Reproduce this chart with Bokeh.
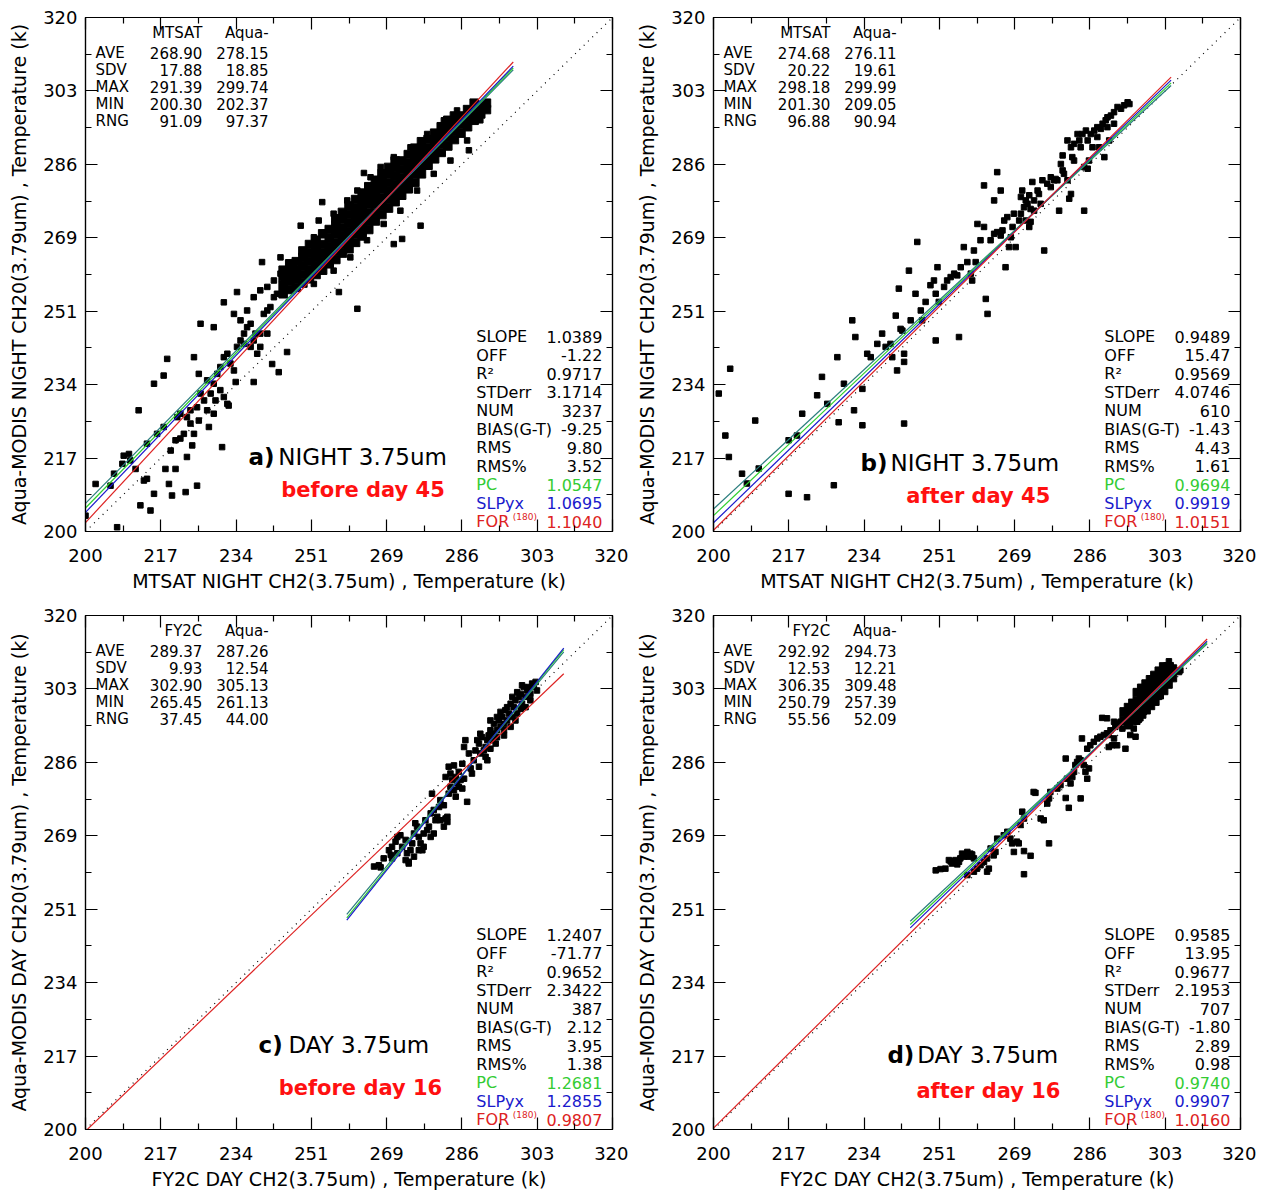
from bokeh.plotting import figure
from bokeh.models import Range1d, LinearAxis, FixedTicker, NumeralTickFormatter, CustomJSTickFormatter
from bokeh.layouts import gridplot
from bokeh.embed import file_html
from bokeh.resources import INLINE
from bokeh.core.properties import value

FONT = "DejaVu Sans"

# ---------------- axis ticks ----------------
tick_values = [200, 217.14, 234.29, 251.43, 268.57, 285.71, 302.86, 320]
minor_tick_values = [208.57, 225.71, 242.86, 260.0, 277.14, 294.29, 311.43]

# ---------------- panel texts ----------------
panel_ids = ["a)", "b)", "c)", "d)"]
panel_titles = ["NIGHT 3.75um", "NIGHT 3.75um", "DAY 3.75um", "DAY 3.75um"]
panel_periods = ["before day 45", "after day 45", "before day 16", "after day 16"]
x_labels = ["MTSAT NIGHT CH2(3.75um) , Temperature (k)",
            "MTSAT NIGHT CH2(3.75um) , Temperature (k)",
            "FY2C DAY CH2(3.75um) , Temperature (k)",
            "FY2C DAY CH2(3.75um) , Temperature (k)"]
y_labels = ["Aqua-MODIS NIGHT CH20(3.79um) , Temperature (k)",
            "Aqua-MODIS NIGHT CH20(3.79um) , Temperature (k)",
            "Aqua-MODIS DAY CH20(3.79um) , Temperature (k)",
            "Aqua-MODIS DAY CH20(3.79um) , Temperature (k)"]

# ---------------- statistics ----------------
sat_names = ["MTSAT", "MTSAT", "FY2C", "FY2C"]
stat_rows = ["AVE", "SDV", "MAX", "MIN", "RNG"]
sat_stats = [[268.90, 17.88, 291.39, 200.30, 91.09],
             [274.68, 20.22, 298.18, 201.30, 96.88],
             [289.37, 9.93, 302.90, 265.45, 37.45],
             [292.92, 12.53, 306.35, 250.79, 55.56]]
aqua_stats = [[278.15, 18.85, 299.74, 202.37, 97.37],
              [276.11, 19.61, 299.99, 209.05, 90.94],
              [287.26, 12.54, 305.13, 261.13, 44.00],
              [294.73, 12.21, 309.48, 257.39, 52.09]]
slope = [1.0389, 0.9489, 1.2407, 0.9585]
offset = [-1.22, 15.47, -71.77, 13.95]
r2 = [0.9717, 0.9569, 0.9652, 0.9677]
stderr = [3.1714, 4.0746, 2.3422, 2.1953]
num = [3237, 610, 387, 707]
bias = [-9.25, -1.43, 2.12, -1.80]
rms = [9.80, 4.43, 3.95, 2.89]
rms_pct = [3.52, 1.61, 1.38, 0.98]
pc = [1.0547, 0.9694, 1.2681, 0.9740]
slp_yx = [1.0695, 0.9919, 1.2855, 0.9907]
for180 = [1.1040, 1.0151, 0.9807, 1.0160]
fit_x_start = [200.0, 200.0, 259.5, 244.8]
fit_x_end = [297.4, 304.2, 308.9, 312.4]
for_x_start = [200.0, 200.0, 200.0, 200.0]

# ---------------- scatter points ----------------
a_points = [
    (207.2, 201.0), (200.0, 203.7), (202.3, 211.1), (205.7, 210.7), (208.7, 217.7), (209.9, 218.1),
    (212.1, 228.3), (212.5, 206.1), (214.8, 204.9), (214.0, 212.3), (215.6, 208.8), (215.6, 234.5),
    (218.2, 214.6), (217.8, 236.4), (219.0, 211.1), (219.7, 208.4), (220.5, 214.6), (222.8, 209.2),
    (223.1, 217.4), (224.3, 220.1), (225.4, 210.7), (223.9, 228.3), (225.8, 236.8), (226.2, 248.5),
    (229.2, 247.7), (231.5, 253.5), (231.1, 219.7), (234.5, 255.9), (218.6, 240.3), (224.7, 240.7),
    (228.1, 224.4), (232.3, 229.8), (234.2, 234.9), (238.3, 234.9), (242.5, 239.1), (244.0, 237.2),
    (245.9, 241.9), (249.0, 271.4), (253.1, 272.6), (253.9, 276.9), (261.9, 252.0), (263.4, 283.7),
    (272.1, 268.3), (270.2, 267.1), (276.3, 271.4), (287.3, 289.0), (257.7, 255.9), (244.4, 264.0),
    (240.2, 262.9),
    (206.5, 213.5), (208.4, 215.8), (210.2, 216.6), (211.4, 214.6), (213.3, 211.9), (214.0, 220.5),
    (216.3, 222.8), (217.8, 224.4), (219.4, 218.9), (220.5, 221.3), (220.9, 226.7), (221.6, 227.5),
    (222.4, 222.8), (223.1, 226.7), (223.9, 225.2), (224.7, 222.8), (221.6, 221.7), (225.4, 229.0),
    (225.8, 225.9), (227.0, 230.6), (227.7, 228.3), (228.5, 232.2), (229.2, 234.5), (229.6, 230.6),
    (230.0, 236.8), (230.7, 238.4), (231.5, 240.7), (232.3, 241.5), (233.0, 239.2), (233.8, 237.6),
    (230.7, 233.0), (231.5, 231.4), (232.6, 229.4), (229.2, 227.5), (226.2, 232.2), (227.7, 235.3),
    (234.5, 243.1), (235.3, 244.6), (236.1, 246.2), (236.8, 247.7), (237.6, 248.5), (238.3, 244.6),
    (239.1, 241.5), (239.8, 243.1), (240.6, 250.8), (241.4, 251.6), (242.1, 252.4), (242.9, 254.7),
    (243.6, 255.5), (245.2, 258.6), (245.9, 259.4), (246.7, 260.9), (247.4, 261.7), (248.6, 262.9),
    (239.8, 246.2), (241.4, 246.2), (238.7, 246.2), (233.8, 250.8), (235.3, 249.3), (236.8, 251.6),
    (238.3, 254.7), (239.8, 256.3), (241.4, 257.1), (242.9, 258.6), (244.4, 260.2), (236.1, 243.8),
    (237.6, 243.1),
    (252.0, 268.7), (256.5, 274.2), (259.6, 277.3), (261.9, 279.6), (264.9, 282.7), (267.2, 285.1),
    (270.2, 287.4), (274.0, 289.7), (277.8, 292.8), (281.6, 296.0), (284.6, 298.3), (288.4, 299.8),
    (252.0, 257.8), (256.5, 260.9), (260.3, 264.0), (264.1, 268.0), (267.9, 271.8), (271.7, 274.9),
    (275.5, 279.6), (279.3, 283.5), (283.1, 286.6), (286.9, 291.3), (289.9, 296.0),
]
a_core = [
    (245.0, 255.5), (245.0, 257.5), (245.0, 259.5), (245.0, 261.0),
    (246.5, 256.5), (246.5, 258.5), (246.5, 260.5), (246.5, 262.5),
    (248.0, 257.0), (248.0, 259.0), (248.0, 261.0), (248.0, 263.0),
    (249.5, 258.0), (249.5, 260.0), (249.5, 262.0), (249.5, 264.0), (249.5, 265.5),
    (251.0, 259.0), (251.0, 261.0), (251.0, 263.0), (251.0, 265.0), (251.0, 267.0),
    (252.5, 260.0), (252.5, 262.0), (252.5, 264.0), (252.5, 266.0), (252.5, 268.0),
    (254.0, 261.0), (254.0, 263.0), (254.0, 265.0), (254.0, 267.0), (254.0, 269.5),
    (255.5, 262.5), (255.5, 264.5), (255.5, 266.5), (255.5, 268.5), (255.5, 270.5),
    (257.0, 263.5), (257.0, 265.5), (257.0, 267.5), (257.0, 269.5), (257.0, 271.5), (257.0, 273.0),
    (258.5, 265.0), (258.5, 267.0), (258.5, 269.0), (258.5, 271.0), (258.5, 273.0), (258.5, 274.5),
    (260.0, 266.0), (260.0, 268.0), (260.0, 270.0), (260.0, 272.0), (260.0, 274.0), (260.0, 276.0),
    (261.5, 267.5), (261.5, 269.5), (261.5, 271.5), (261.5, 273.5), (261.5, 275.5), (261.5, 277.5),
    (263.0, 269.0), (263.0, 271.0), (263.0, 273.0), (263.0, 275.0), (263.0, 277.0), (263.0, 279.0),
    (264.5, 270.5), (264.5, 272.5), (264.5, 274.5), (264.5, 276.5), (264.5, 278.5), (264.5, 280.5),
    (266.0, 272.5), (266.0, 274.5), (266.0, 276.5), (266.0, 278.5), (266.0, 280.5), (266.0, 282.0),
    (267.5, 274.0), (267.5, 276.0), (267.5, 278.0), (267.5, 280.0), (267.5, 282.0), (267.5, 283.5),
    (269.0, 275.5), (269.0, 277.5), (269.0, 279.5), (269.0, 281.5), (269.0, 283.5), (269.0, 285.0),
    (270.5, 277.0), (270.5, 279.0), (270.5, 281.0), (270.5, 283.0), (270.5, 285.0), (270.5, 286.5),
    (272.0, 278.5), (272.0, 280.5), (272.0, 282.5), (272.0, 284.5), (272.0, 286.5),
    (273.5, 280.0), (273.5, 282.0), (273.5, 284.0), (273.5, 286.0), (273.5, 288.0),
    (275.0, 281.5), (275.0, 283.5), (275.0, 285.5), (275.0, 287.5), (275.0, 289.5),
    (276.5, 283.5), (276.5, 285.5), (276.5, 287.5), (276.5, 289.5), (276.5, 291.0),
    (278.0, 285.5), (278.0, 287.5), (278.0, 289.5), (278.0, 291.5),
    (279.5, 287.0), (279.5, 289.0), (279.5, 291.0), (279.5, 293.0),
    (281.0, 288.5), (281.0, 290.5), (281.0, 292.5), (281.0, 294.5),
    (282.5, 290.0), (282.5, 292.0), (282.5, 294.0), (282.5, 296.0),
    (284.0, 291.5), (284.0, 293.5), (284.0, 295.5), (284.0, 297.0),
    (285.5, 293.0), (285.5, 295.0), (285.5, 297.0),
    (287.0, 294.5), (287.0, 296.5), (287.0, 298.5),
    (288.5, 296.0), (288.5, 298.0), (288.5, 300.0),
    (290.0, 297.5), (290.0, 299.5),
    (291.3, 298.5), (291.3, 300.0),
]
b_points = [
    (201.2, 232.2), (203.8, 238.0), (202.7, 222.4), (203.5, 217.4), (209.5, 225.9), (206.5, 213.5),
    (207.6, 211.2), (217.1, 208.8), (221.3, 208.0), (227.4, 210.8), (210.3, 214.7), (217.1, 221.3),
    (219.0, 222.4), (220.2, 227.5), (223.6, 231.8), (224.7, 236.1), (225.9, 229.8), (228.2, 240.7),
    (228.5, 225.5), (229.7, 234.5), (231.6, 249.3), (232.0, 228.3), (232.3, 245.4), (233.9, 224.8),
    (233.9, 233.3), (235.0, 241.5), (235.8, 240.7), (237.3, 243.8), (238.4, 246.2), (239.2, 243.1),
    (240.3, 243.8), (240.7, 240.7), (241.8, 237.6), (242.6, 247.3), (243.4, 241.5), (243.4, 239.6),
    (241.5, 250.4), (242.2, 256.7), (243.0, 246.9), (243.4, 225.2), (244.5, 260.9), (244.9, 249.3),
    (246.0, 255.5), (246.4, 267.6), (247.2, 251.6), (247.5, 249.3), (248.3, 253.6), (249.4, 257.5),
    (250.2, 258.6), (250.6, 255.5), (250.6, 244.6), (251.0, 261.7), (251.3, 253.6), (252.5, 257.1),
    (253.2, 258.6), (254.0, 259.4), (254.8, 260.2), (255.5, 259.8), (255.9, 245.4), (256.3, 261.7),
    (257.0, 266.4), (257.8, 262.9), (258.6, 260.2), (258.9, 258.6), (259.3, 265.6), (259.7, 262.9),
    (260.1, 271.8), (260.8, 268.0), (261.6, 271.1), (262.0, 254.3), (262.4, 250.8), (263.1, 268.0),
    (263.9, 269.5), (264.6, 269.9), (265.4, 269.1), (265.8, 270.3), (266.2, 272.6), (266.5, 261.7),
    (267.3, 266.4), (267.7, 268.7), (268.1, 271.1), (268.8, 266.4), (270.0, 274.2), (270.7, 275.7),
    (271.1, 272.6), (271.5, 276.5), (271.9, 278.5), (272.2, 275.3), (272.6, 281.6), (273.0, 277.3),
    (273.8, 279.6), (274.1, 278.8), (274.5, 276.5), (274.9, 282.0), (275.3, 265.6), (276.0, 281.2),
    (276.8, 280.4), (277.6, 282.0), (278.3, 282.0), (278.7, 274.9), (279.1, 285.8), (279.5, 287.8),
    (279.8, 283.5), (280.6, 282.0), (281.0, 277.7), (281.4, 289.7), (281.7, 287.4), (282.1, 290.5),
    (282.9, 292.8), (283.6, 289.7), (284.4, 274.9), (284.8, 293.6), (285.2, 284.7), (285.5, 286.6),
    (285.9, 292.8), (286.7, 293.6), (287.4, 292.1), (288.2, 294.0), (288.6, 295.2), (289.0, 287.4),
    (289.3, 296.0), (289.7, 296.7), (290.5, 297.1), (291.2, 297.9), (292.0, 299.1), (292.8, 298.7),
    (293.5, 299.5), (294.3, 300.2), (294.7, 299.8), (264.6, 283.9), (261.6, 280.8), (265.4, 279.6),
    (263.9, 277.3), (273.0, 274.9), (276.8, 282.7), (277.9, 282.3), (281.4, 278.8), (282.1, 286.6),
    (283.3, 291.3), (284.0, 292.8), (285.2, 291.3), (286.3, 289.7), (287.4, 294.4), (287.8, 289.7),
    (284.4, 285.1), (289.7, 294.4), (290.1, 291.3), (291.2, 295.2), (280.6, 291.3), (279.5, 284.3),
    (271.1, 277.3), (270.0, 278.1), (270.3, 279.6), (269.6, 272.6), (268.4, 274.2), (266.9, 273.4),
    (271.9, 271.1), (272.2, 272.3),
]
c_points = [
    (265.7, 261.4), (266.8, 261.7), (267.9, 263.3), (269.1, 265.2), (269.8, 266.0), (269.5, 264.1),
    (270.6, 267.2), (271.0, 268.3), (271.7, 268.7), (272.1, 266.0), (272.9, 267.6), (273.2, 264.5),
    (273.6, 262.5), (274.0, 265.2), (274.4, 266.8), (274.8, 269.1), (275.1, 271.5), (275.5, 270.7),
    (275.9, 268.3), (276.3, 266.8), (276.7, 265.2), (277.0, 269.1), (277.4, 272.2), (277.8, 269.9),
    (278.2, 270.7), (278.6, 273.8), (279.3, 274.6), (278.9, 278.4), (279.7, 272.2), (280.1, 273.0),
    (280.5, 275.3), (280.8, 276.9), (281.6, 275.7), (282.0, 272.6), (282.4, 271.8), (282.7, 278.4),
    (283.1, 280.0), (283.5, 281.6), (283.9, 279.2), (284.3, 277.7), (284.6, 280.8), (285.0, 280.0),
    (285.4, 281.6), (285.8, 279.6), (286.2, 281.9), (286.9, 276.5), (282.0, 282.3), (282.7, 284.7),
    (283.9, 285.0), (286.2, 289.3), (286.5, 290.9), (287.3, 287.8), (287.7, 284.3), (288.4, 286.2),
    (288.8, 288.5), (289.2, 290.9), (289.6, 290.1), (289.9, 287.8), (290.3, 291.6), (290.7, 288.5),
    (291.1, 289.3), (291.5, 286.2), (291.8, 292.0), (292.2, 293.2), (292.6, 290.9), (293.0, 292.4),
    (293.4, 290.1), (293.7, 293.2), (294.1, 295.5), (294.5, 294.0), (294.9, 296.3), (295.3, 294.7),
    (295.6, 297.9), (296.0, 295.5), (296.4, 297.1), (296.8, 299.4), (297.2, 296.3), (297.5, 298.6),
    (297.9, 300.2), (298.3, 297.1), (298.7, 301.0), (299.1, 301.7), (299.4, 299.4), (299.8, 303.3),
    (300.2, 301.0), (300.6, 302.5), (301.0, 303.3), (301.3, 301.7), (301.7, 304.1), (302.1, 303.3),
    (302.5, 304.5), (302.8, 302.5), (301.3, 300.2), (300.2, 298.6), (299.1, 298.2), (297.9, 295.5),
    (296.8, 294.0), (295.3, 292.0), (293.7, 291.6), (292.2, 288.9), (291.1, 287.0), (289.6, 284.7),
    (288.0, 283.1), (273.6, 262.1), (272.9, 262.9), (267.2, 261.2), (269.8, 263.3), (271.0, 264.5),
    (274.8, 263.7), (275.9, 265.2), (277.0, 266.0), (278.6, 268.3), (279.3, 269.1), (280.8, 272.2),
    (281.6, 270.7), (282.4, 273.0), (292.2, 295.5), (291.5, 290.9), (293.0, 294.7), (293.7, 296.3),
    (294.5, 297.5), (296.0, 298.6), (297.2, 301.0), (298.3, 302.1), (299.4, 303.7), (295.3, 293.2),
    (289.9, 292.4), (285.8, 285.4), (285.0, 283.5), (284.3, 282.3), (283.1, 283.1),
]
d_points = [
    (250.6, 260.5), (251.7, 260.8), (252.8, 260.9), (254.0, 262.6), (255.1, 262.9), (254.3, 262.1),
    (255.5, 261.9), (256.2, 263.3), (257.0, 263.7), (257.4, 264.2), (257.8, 264.8), (258.1, 263.7),
    (258.5, 264.4), (259.3, 263.3), (255.9, 262.5), (253.6, 262.9), (256.6, 264.4), (258.9, 264.2),
    (257.8, 259.4), (259.3, 260.2), (260.0, 260.9), (260.8, 261.7), (261.6, 262.5), (262.3, 260.2),
    (262.7, 260.9), (263.8, 264.0), (264.2, 264.8), (262.3, 263.3), (263.1, 265.6), (264.6, 267.9),
    (266.1, 268.7), (266.9, 269.5), (267.6, 267.9), (268.0, 266.8), (268.4, 264.8), (269.1, 267.2),
    (269.5, 266.8), (270.7, 265.0), (272.2, 263.9), (270.7, 259.6), (269.9, 271.1), (270.7, 272.6),
    (270.3, 274.2), (272.9, 278.8), (273.3, 278.6), (274.5, 272.6), (275.2, 272.2), (276.0, 276.1),
    (276.4, 277.3), (276.7, 278.8), (278.3, 279.6), (279.0, 280.4), (280.2, 277.4), (280.9, 275.1),
    (280.5, 281.9), (281.3, 280.8), (281.7, 282.3), (282.1, 283.5), (282.4, 285.1), (282.8, 285.8),
    (283.2, 286.6), (283.6, 286.2), (284.3, 285.1), (284.7, 283.5), (285.1, 281.9), (285.5, 284.3),
    (280.2, 286.6), (285.1, 288.9), (285.8, 289.7), (286.6, 290.5), (287.4, 291.3), (288.1, 291.7),
    (288.9, 292.1), (289.6, 292.5), (290.0, 289.3), (290.4, 293.2), (290.8, 289.7), (291.5, 294.0),
    (291.9, 289.7), (292.3, 294.8), (292.7, 295.2), (293.4, 295.6), (293.8, 288.9), (296.1, 291.7),
    (288.5, 296.1), (289.6, 296.0), (291.2, 295.2), (283.9, 291.3), (290.0, 292.1), (291.2, 291.3),
    (293.1, 293.6), (297.2, 296.0), (295.7, 293.6), (294.9, 292.1), (283.6, 277.3), (276.4, 266.8),
    (303.7, 309.3), (306.0, 306.8), (306.3, 307.2), (304.1, 308.4), (300.3, 301.8), (301.4, 301.0),
    (298.8, 299.1), (299.5, 299.8), (298.0, 297.5), (296.5, 295.2),
]
d_core = [
    (293.5, 295.5), (293.5, 297.5),
    (294.5, 294.5), (294.5, 296.5), (294.5, 298.5),
    (295.5, 295.5), (295.5, 297.5), (295.5, 299.5),
    (296.5, 296.0), (296.5, 298.0), (296.5, 300.0), (296.5, 302.0),
    (297.5, 297.0), (297.5, 299.0), (297.5, 301.0), (297.5, 303.0),
    (298.5, 298.0), (298.5, 300.0), (298.5, 302.0), (298.5, 304.0),
    (299.5, 299.0), (299.5, 301.0), (299.5, 303.0), (299.5, 305.0),
    (300.5, 300.0), (300.5, 302.0), (300.5, 304.0), (300.5, 306.0),
    (301.5, 301.5), (301.5, 303.5), (301.5, 305.5), (301.5, 307.0),
    (302.5, 302.5), (302.5, 304.5), (302.5, 306.5), (302.5, 308.0),
    (303.5, 304.0), (303.5, 306.0), (303.5, 308.0),
    (304.5, 305.5), (304.5, 307.5),
]
scatter_points = [a_points, b_points, c_points, d_points]
core_points = [a_core, [], [], d_core]

# ---------------- styles ----------------
LINE_COLORS = ["#2a7d7d", "#2fcf2f", "#1a1acc", "#dd2222"]
PC_GREEN = "#33cc33"
SLP_BLUE = "#1a1acc"
FOR_RED = "#dd2222"


def fmt2(v):
    return f"{v:.2f}"


def make_panel(i):
    p = figure(frame_width=527, frame_height=514,
               x_range=Range1d(200, 320), y_range=Range1d(200, 320),
               output_backend="svg", toolbar_location=None,
               min_border_left=85, min_border_right=16,
               min_border_top=17, min_border_bottom=(67 if i < 2 else 62),
               x_axis_label=x_labels[i], y_axis_label=y_labels[i],
               background_fill_color="white", border_fill_color="white")
    p.grid.visible = False
    p.outline_line_color = "black"
    p.outline_line_width = 1.2
    p.add_layout(LinearAxis(), "right")
    p.add_layout(LinearAxis(), "above")

    for ax in p.axis:
        ax.ticker = FixedTicker(ticks=tick_values, minor_ticks=minor_tick_values)
        ax.formatter = NumeralTickFormatter(format="0")
        ax.major_tick_in = 12
        ax.major_tick_out = 0
        ax.minor_tick_in = 6
        ax.minor_tick_out = 0
        ax.axis_line_color = "black"
        ax.axis_line_width = 1.2
        ax.major_tick_line_color = "black"
        ax.minor_tick_line_color = "black"
        ax.major_tick_line_width = 1.2
        ax.minor_tick_line_width = 1.2
        ax.major_label_text_font = FONT
        ax.major_label_text_font_size = "18px"
        ax.major_label_text_color = "black"
    for ax in p.above + p.right:
        ax.formatter = CustomJSTickFormatter(code="return ''")
        ax.major_label_standoff = 0
    for ax in p.below:
        ax.major_label_standoff = 17
        ax.axis_label_standoff = 5
    for ax in p.left:
        ax.major_label_standoff = 8
        ax.axis_label_standoff = 10
    for ax in p.below + p.left:
        ax.axis_label_text_font = FONT
        ax.axis_label_text_font_size = "19px"
        ax.axis_label_text_font_style = "normal"
        ax.axis_label_text_color = "black"

    # scatter
    pts = scatter_points[i]
    p.scatter(x=[q[0] for q in pts], y=[q[1] for q in pts], marker="square",
              size=5.5, color="black")
    core = core_points[i]
    if core:
        p.scatter(x=[q[0] for q in core], y=[q[1] for q in core], marker="square",
                  size=8.5, color="black")

    # 1:1 line
    p.line([200, 320], [200, 320], line_color="black", line_width=1.2, line_dash="1 5")

    # fit lines through the mean point
    xbar = sat_stats[i][0]
    ybar = aqua_stats[i][0]
    slopes = [slope[i], pc[i], slp_yx[i], for180[i]]
    starts = [fit_x_start[i], fit_x_start[i], fit_x_start[i], for_x_start[i]]
    for s, x0, col in zip(slopes, starts, LINE_COLORS):
        x1 = fit_x_end[i]
        p.line([x0, x1], [ybar + s * (x0 - xbar), ybar + s * (x1 - xbar)],
               line_color=col, line_width=1.2)

    # top-left statistics table
    lab_x, col1_x, col2_x = 202.3, 226.6, 241.7
    head_y = 316.3
    row_y = [311.8 - 4.0 * k for k in range(5)]
    p.text(x=[col1_x, col2_x], y=[head_y, head_y], text=[sat_names[i], "Aqua-"],
           text_font=value(FONT), text_font_size="15px", text_align="right",
           text_baseline="middle", text_color="black")
    p.text(x=[lab_x] * 5, y=row_y, text=stat_rows,
           text_font=value(FONT), text_font_size="15px", text_align="left",
           text_baseline="middle", text_color="black")
    p.text(x=[col1_x] * 5, y=row_y, text=[fmt2(v) for v in sat_stats[i]],
           text_font=value(FONT), text_font_size="15px", text_align="right",
           text_baseline="middle", text_color="black")
    p.text(x=[col2_x] * 5, y=row_y, text=[fmt2(v) for v in aqua_stats[i]],
           text_font=value(FONT), text_font_size="15px", text_align="right",
           text_baseline="middle", text_color="black")

    # bottom-right regression table
    rlab_x, rval_x = 289.0, 317.7
    ry = [245.5 - 4.32 * k for k in range(11)]
    labels = ["SLOPE", "OFF", "R²", "STDerr", "NUM", "BIAS(G-T)", "RMS", "RMS%",
              "PC", "SLPyx", "FOR"]
    values = [f"{slope[i]:.4f}", fmt2(offset[i]), f"{r2[i]:.4f}", f"{stderr[i]:.4f}",
              str(num[i]), fmt2(bias[i]), fmt2(rms[i]), fmt2(rms_pct[i]),
              f"{pc[i]:.4f}", f"{slp_yx[i]:.4f}", f"{for180[i]:.4f}"]
    colors = ["black"] * 8 + [PC_GREEN, SLP_BLUE, FOR_RED]
    p.text(x=[rlab_x] * 11, y=ry, text=labels, text_color=colors,
           text_font=value(FONT), text_font_size="16px", text_align="left",
           text_baseline="middle")
    p.text(x=[rval_x] * 11, y=ry, text=values, text_color=colors,
           text_font=value(FONT), text_font_size="16px", text_align="right",
           text_baseline="middle")
    p.text(x=[rlab_x + 8.3], y=[ry[10] + 1.0], text=["(180)"], text_color=FOR_RED,
           text_font=value(FONT), text_font_size="9px", text_align="left",
           text_baseline="middle")

    # panel title
    title_x = [237.1, 233.5, 239.4, 239.6][i]
    title_y = [217.5, 215.9, 219.8, 217.5][i]
    period_x = [263.2, 260.3, 262.6, 262.6][i]
    period_y = [209.6, 208.2, 209.8, 208.9][i]
    p.text(x=[title_x], y=[title_y], text=[panel_ids[i]], text_font=value(FONT),
           text_font_size="23px", text_font_style="bold", text_align="left",
           text_baseline="middle", text_color="black")
    p.text(x=[title_x + 6.8], y=[title_y], text=[panel_titles[i]], text_font=value(FONT),
           text_font_size="23px", text_align="left", text_baseline="middle",
           text_color="black")
    p.text(x=[period_x], y=[period_y], text=[panel_periods[i]], text_font=value(FONT),
           text_font_size="21px", text_font_style="bold", text_align="center",
           text_baseline="middle", text_color="#ff1010")
    return p


panels = [make_panel(i) for i in range(4)]
grid = gridplot([[panels[0], panels[1]], [panels[2], panels[3]]], toolbar_location=None)
open("out.html", "w").write(file_html(grid, INLINE))
